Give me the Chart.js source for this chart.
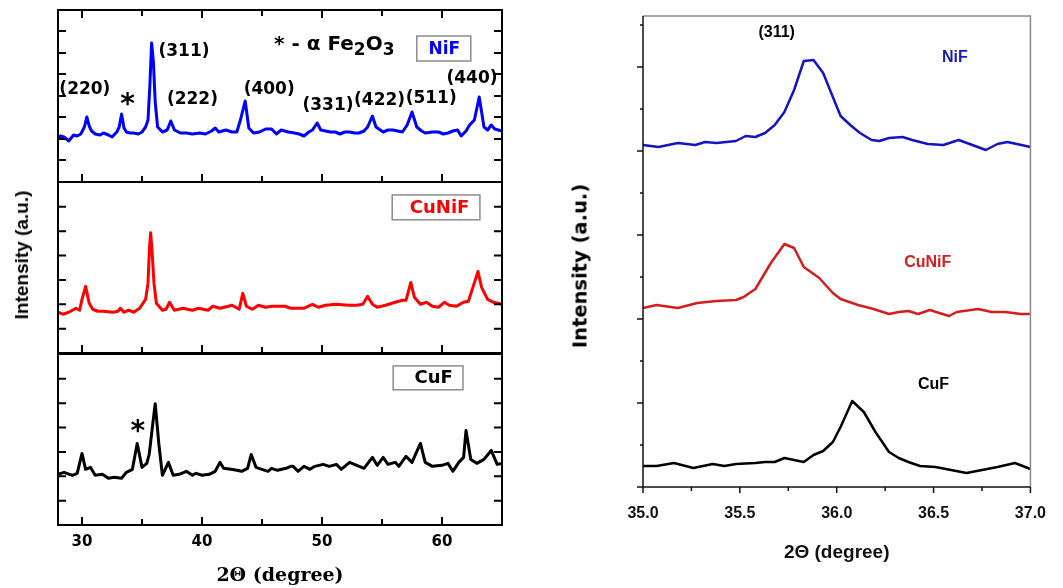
<!DOCTYPE html>
<html>
<head>
<meta charset="utf-8">
<script src="https://cdn.jsdelivr.net/npm/chart.js@4.4.1/dist/chart.umd.min.js"></script>
<style>
  body { margin: 0; background: #fff; }
  #page { position: relative; width: 1063px; height: 588px; overflow: hidden; background: #fff; }
  canvas { position: absolute; top: 0; }
  .left { left: 0; filter: blur(0.4px); }
  .right { left: 560px; filter: blur(0.5px); }
  .ytitle { position: absolute; white-space: nowrap; font-weight: bold; color: #000;
            transform: translate(-50%, -50%) rotate(-90deg); }
</style>
</head>
<body>
<div id="page">
  <canvas id="niPanel" class="left" width="530" height="588"></canvas>
  <canvas id="cuniPanel" class="left" width="530" height="588"></canvas>
  <canvas id="cufPanel" class="left" width="530" height="588"></canvas>
  <canvas id="zoomPanel" class="right" width="503" height="588"></canvas>
  <div class="ytitle" style="left:22px; top:255px; font-family:'Liberation Sans', Arial, sans-serif; font-size:19px;">Intensity (a.u.)</div>
  <div class="ytitle" style="left:580px; top:266px; font-family:'DejaVu Sans', sans-serif; font-size:19.5px;">Intensity (a.u.)</div>
</div>
<script>
// full scans, 2theta 28-65 deg
const niTheta = [28.0, 28.2, 28.5, 28.9, 29.3, 29.6, 29.9, 30.2, 30.4, 30.6, 30.8, 31.1, 31.5, 31.8, 32.2, 32.5, 32.9, 33.1, 33.3, 33.5,
  33.7, 34.0, 34.3, 34.7, 35.0, 35.3, 35.5, 35.65, 35.8, 35.95, 36.1, 36.3, 36.7, 37.1, 37.4, 37.7, 38.2, 38.7, 39.2, 39.8,
  40.3, 40.8, 41.1, 41.4, 41.7, 42.0, 42.5, 42.9, 43.2, 43.6, 43.9, 44.3, 44.8, 45.3, 45.8, 46.2, 46.6, 47.2, 47.7, 48.1,
  48.5, 48.9, 49.2, 49.6, 49.9, 50.3, 50.7, 51.1, 51.5, 51.9, 52.3, 52.7, 53.1, 53.5, 53.8, 54.2, 54.5, 55.1, 55.5, 55.9,
  56.3, 56.7, 57.1, 57.5, 57.9, 58.3, 58.6, 59.2, 59.7, 60.1, 60.5, 60.9, 61.3, 61.6, 62.0, 62.3, 62.7, 63.1, 63.5, 63.8,
  64.1, 64.4, 65.0];
const niCounts = [44, 46, 45, 41, 47, 46, 48, 55, 65, 56, 51, 48, 47, 49, 47, 45, 50, 55, 68, 54,
  50, 49, 49, 48, 50, 55, 62, 95, 139, 120, 80, 55, 50, 52, 61, 52, 49, 49, 48, 49,
  48, 51, 54, 50, 51, 52, 50, 50, 62, 81, 54, 49, 50, 53, 53, 48, 52, 50, 49, 48,
  46, 50, 52, 59, 52, 51, 50, 50, 48, 50, 50, 49, 49, 51, 55, 66, 55, 50, 52, 52,
  51, 50, 57, 70, 55, 51, 49, 50, 50, 48, 49, 51, 52, 46, 51, 57, 62, 85, 55, 52,
  57, 53, 51];

const cuniTheta = [28.0, 28.4, 28.9, 29.5, 29.8, 30.0, 30.3, 30.6, 30.9, 31.3, 31.8, 32.6, 33.0, 33.2, 33.5, 33.9, 34.3, 34.8, 35.3, 35.5,
  35.62, 35.72, 35.85, 36.0, 36.2, 36.7, 37.0, 37.3, 37.7, 38.4, 39.2, 39.7, 40.5, 40.9, 41.5, 42.2, 42.5, 43.1, 43.4, 43.7,
  44.2, 44.7, 45.3, 45.8, 46.9, 47.4, 48.5, 49.2, 49.7, 50.3, 51.2, 52.2, 52.9, 53.4, 53.8, 54.2, 54.6, 55.3, 56.1, 56.7,
  57.0, 57.4, 57.7, 58.2, 58.7, 59.2, 59.7, 60.2, 60.6, 61.2, 61.8, 62.2, 62.6, 63.0, 63.3, 63.8, 64.3, 65.0];
const cuniCounts = [41, 39, 41, 45, 43, 54, 67, 50, 44, 42, 42, 41, 42, 45, 41, 43, 41, 45, 54, 70,
  105, 121, 100, 70, 50, 43, 44, 51, 43, 45, 43, 45, 43, 47, 45, 47, 48, 44, 60, 47,
  44, 48, 46, 47, 47, 45, 45, 49, 46, 48, 49, 48, 48, 49, 57, 49, 46, 48, 51, 53,
  53, 71, 56, 49, 51, 47, 46, 51, 48, 47, 51, 52, 67, 82, 66, 54, 51, 49];

const cufTheta = [28.0, 28.5, 29.2, 29.6, 30.0, 30.3, 30.7, 31.1, 31.7, 32.2, 32.7, 33.3, 33.7, 34.2, 34.6, 35.0, 35.4, 35.6, 35.9, 36.1,
  36.4, 36.7, 37.2, 37.6, 38.1, 38.7, 39.2, 39.5, 40.0, 40.6, 41.1, 41.5, 41.8, 42.4, 42.9, 43.3, 43.8, 44.1, 44.5, 45.0,
  45.5, 45.8, 46.3, 47.0, 47.4, 47.6, 48.0, 48.5, 49.0, 49.4, 50.1, 50.6, 51.2, 51.6, 52.3, 52.9, 53.5, 54.2, 54.6, 55.1,
  55.5, 56.1, 56.4, 57.0, 57.5, 58.2, 58.6, 59.2, 60.0, 60.5, 60.9, 61.4, 61.8, 62.0, 62.4, 62.9, 63.5, 64.1, 64.6, 65.0];
const cufCounts = [51, 53, 50, 52, 72, 56, 58, 50, 51, 47, 48, 47, 53, 56, 82, 58, 62, 71, 102, 122,
  82, 50, 63, 50, 51, 54, 50, 52, 50, 51, 54, 63, 57, 56, 55, 54, 57, 71, 58, 56,
  54, 57, 55, 57, 59, 59, 54, 59, 56, 59, 61, 59, 61, 56, 63, 60, 57, 68, 60, 68,
  61, 63, 59, 69, 63, 82, 63, 59, 60, 62, 54, 63, 68, 95, 66, 62, 66, 75, 61, 62];

// (311) region, 35-37 deg
const niZoomTheta = [35.00, 35.08, 35.18, 35.27, 35.32, 35.38, 35.48, 35.53, 35.58, 35.63, 35.68, 35.73, 35.78, 35.83, 35.88, 35.93, 35.98,
  36.02, 36.07, 36.12, 36.18, 36.22, 36.27, 36.34, 36.39, 36.47, 36.55, 36.63, 36.70, 36.77, 36.83, 36.88, 36.93, 37.00];
const niZoomCounts = [342, 340, 344, 342, 345, 344, 346, 351, 350, 354, 362, 375, 397, 426, 427, 414, 390,
  371, 362, 354, 347, 346, 349, 350, 347, 343, 342, 347, 342, 337, 343, 345, 343, 340];

const cuniZoomTheta = [35.00, 35.07, 35.18, 35.28, 35.38, 35.48, 35.52, 35.58, 35.66, 35.73, 35.78, 35.83, 35.91, 35.98, 36.02,
  36.11, 36.19, 36.27, 36.32, 36.37, 36.42, 36.48, 36.58, 36.62, 36.73, 36.80, 36.87, 36.95, 37.00];
const cuniZoomCounts = [179, 182, 179, 184, 186, 187, 190, 198, 224, 243, 239, 220, 209, 194, 188,
  182, 178, 173, 175, 176, 173, 177, 171, 175, 178, 175, 175, 173, 173];

const cufZoomTheta = [35.00, 35.07, 35.16, 35.26, 35.36, 35.42, 35.48, 35.58, 35.63, 35.68, 35.73, 35.83, 35.88, 35.93, 35.98,
  36.02, 36.08, 36.14, 36.20, 36.27, 36.32, 36.37, 36.43, 36.51, 36.59, 36.67, 36.75, 36.83, 36.92, 37.00];
const cufZoomCounts = [21, 21, 24, 19, 23, 21, 23, 24, 25, 25, 29, 25, 32, 36, 45,
  60, 86, 75, 55, 35, 29, 25, 21, 20, 17, 14, 17, 20, 24, 18];

// tick positions
const leftMajor = [30, 40, 50, 60];
const leftMinor = [35, 45, 55];
const niYTicks = [22, 43, 65, 86, 108, 129, 151];
const cuYTicks = [24.5, 49, 73.5, 98, 122.5, 147];
const zoomXMajor = [35, 35.5, 36, 36.5, 37];
const zoomXMinor = [35.25, 35.75, 36.25, 36.75];
const zoomYMajor = [0, 84, 168, 252, 336, 420];
const zoomYMinor = [42, 126, 210, 294, 378, 462];

const boldSans = "bold 17px 'DejaVu Sans', sans-serif";
const plainSans = "'Liberation Sans', Arial, sans-serif";

function toPoints(xs, ys) {
  return xs.map((x, i) => ({ x: x, y: ys[i] }));
}

// closed frame with inward ticks on every side of a left panel
function frameTicks(yTicks, topTicks) {
  return {
    id: 'frameTicks',
    afterDatasetsDraw(chart) {
      const ctx = chart.ctx;
      const a = chart.chartArea;
      const x = chart.scales.x;
      const y = chart.scales.y;
      ctx.save();
      ctx.strokeStyle = '#000';
      ctx.lineWidth = 2;
      ctx.beginPath();
      leftMajor.concat(leftMinor).forEach(v => {
        const len = leftMajor.includes(v) ? 8 : 6;
        const px = x.getPixelForValue(v);
        ctx.moveTo(px, a.bottom);
        ctx.lineTo(px, a.bottom - len);
        if (topTicks) {
          ctx.moveTo(px, a.top);
          ctx.lineTo(px, a.top + len);
        }
      });
      yTicks.forEach(v => {
        const py = y.getPixelForValue(v);
        ctx.moveTo(a.left, py);
        ctx.lineTo(a.left + 8, py);
        ctx.moveTo(a.right, py);
        ctx.lineTo(a.right - 8, py);
      });
      ctx.stroke();
      ctx.strokeRect(a.left, a.top, a.width, a.height);
      ctx.restore();
    }
  };
}

// text placed in data coordinates, optionally with a box or subscripts
function textMarks(marks) {
  return {
    id: 'textMarks',
    afterDatasetsDraw(chart) {
      const ctx = chart.ctx;
      const x = chart.scales.x;
      const y = chart.scales.y;
      ctx.save();
      marks.forEach(m => {
        if (m.box) {
          const x0 = x.getPixelForValue(m.box[0]);
          const x1 = x.getPixelForValue(m.box[1]);
          const y0 = y.getPixelForValue(m.box[3]);
          const y1 = y.getPixelForValue(m.box[2]);
          ctx.strokeStyle = '#8c8c8c';
          ctx.lineWidth = 1.5;
          ctx.strokeRect(x0, y0, x1 - x0, y1 - y0);
        }
        ctx.fillStyle = m.color || '#000';
        ctx.textBaseline = m.baseline || 'middle';
        let px = x.getPixelForValue(m.x);
        const py = y.getPixelForValue(m.y);
        if (m.parts) {
          ctx.textAlign = 'left';
          m.parts.forEach(p => {
            ctx.font = p.sub ? m.subFont : m.font;
            ctx.fillText(p.t, px, p.sub ? py + 6 : py);
            px += ctx.measureText(p.t).width;
          });
        } else {
          ctx.font = m.font;
          ctx.textAlign = m.align || 'center';
          ctx.fillText(m.text, px, py);
        }
      });
      ctx.restore();
    }
  };
}

const niMarks = [
  { text: '(220)', x: 30.24, y: 92, font: boldSans },
  { text: '*', x: 33.8, y: 69, font: "bold 28px 'DejaVu Sans', sans-serif", baseline: 'alphabetic' },
  { text: '(311)', x: 38.5, y: 130, font: boldSans },
  { text: '(222)', x: 39.2, y: 82, font: boldSans },
  { text: '(400)', x: 45.6, y: 92, font: boldSans },
  { text: '(331)', x: 50.5, y: 76, font: boldSans },
  { text: '(422)', x: 54.8, y: 81, font: boldSans },
  { text: '(511)', x: 59.1, y: 83, font: boldSans },
  { text: '(440)', x: 62.5, y: 103, font: boldSans },
  { x: 46.0, y: 137, font: "bold 20px 'DejaVu Sans', sans-serif", subFont: "bold 17px 'DejaVu Sans', sans-serif",
    parts: [{ t: '* - \u03b1 Fe' }, { t: '2', sub: true }, { t: 'O' }, { t: '3', sub: true }] },
  { text: 'NiF', x: 60.2, y: 132, font: "bold 17px 'DejaVu Sans', sans-serif", color: '#0000ff', box: [57.9, 62.4, 121, 146] }
];
const cuniMarks = [
  { text: 'CuNiF', x: 59.8, y: 146, font: "bold 18px 'DejaVu Sans', sans-serif", color: '#ff0000', box: [55.85, 63.16, 134, 159] }
];
const cufMarks = [
  { text: '*', x: 34.65, y: 86, font: "bold 28px 'DejaVu Sans', sans-serif", baseline: 'alphabetic' },
  { text: 'CuF', x: 59.3, y: 148, font: "bold 18px 'DejaVu Sans', sans-serif", box: [55.93, 61.75, 136, 160] }
];

function xrdPanel(id, theta, counts, color, yTicks, pad, bottomAxis, topTicks, marks) {
  const xScale = {
    type: 'linear',
    min: 28,
    max: 65,
    display: bottomAxis,
    grid: { display: false, drawTicks: false },
    border: { display: false },
    afterBuildTicks: s => { s.ticks = leftMajor.map(v => ({ value: v })); },
    ticks: { padding: 8, color: '#000', font: { family: "'DejaVu Sans', sans-serif", size: 15, weight: 'bold' } },
    title: {
      display: true,
      text: '2\u0398 (degree)',
      color: '#000',
      padding: { top: 0, bottom: 1 },
      font: { family: "'DejaVu Serif', 'Liberation Serif', serif", size: 19, weight: 'bold' }
    }
  };
  if (bottomAxis) {
    xScale.afterFit = s => { s.height = 63; };
  }
  return new Chart(document.getElementById(id), {
    type: 'line',
    data: {
      datasets: [{
        data: toPoints(theta, counts),
        borderColor: color,
        borderWidth: 3,
        pointRadius: 0,
        tension: 0,
        borderJoinStyle: 'round'
      }]
    },
    options: {
      responsive: false,
      animation: false,
      events: [],
      layout: { padding: pad },
      plugins: { legend: { display: false }, tooltip: { enabled: false } },
      scales: {
        x: xScale,
        y: { min: 0, max: 172, display: false }
      }
    },
    plugins: [frameTicks(yTicks, topTicks), textMarks(marks)]
  });
}

xrdPanel('niPanel', niTheta, niCounts, '#0000ff', niYTicks, { left: 58, right: 28, top: 10, bottom: 406 }, false, true, niMarks);
xrdPanel('cuniPanel', cuniTheta, cuniCounts, '#ff0000', cuYTicks, { left: 58, right: 28, top: 182, bottom: 235 }, false, false, cuniMarks);
xrdPanel('cufPanel', cufTheta, cufCounts, '#000000', cuYTicks, { left: 58, right: 28, top: 354, bottom: 0 }, true, false, cufMarks);

// axes of the (311) close-up: black left/bottom with outward ticks, grey top/right
const zoomAxes = {
  id: 'zoomAxes',
  afterDatasetsDraw(chart) {
    const ctx = chart.ctx;
    const a = chart.chartArea;
    const x = chart.scales.x;
    const y = chart.scales.y;
    ctx.save();
    ctx.strokeStyle = '#8a8a8a';
    ctx.lineWidth = 1.5;
    ctx.beginPath();
    ctx.moveTo(a.left, a.top);
    ctx.lineTo(a.right, a.top);
    ctx.lineTo(a.right, a.bottom);
    ctx.stroke();
    ctx.strokeStyle = '#111';
    ctx.lineWidth = 1.5;
    ctx.beginPath();
    ctx.moveTo(a.left, a.top);
    ctx.lineTo(a.left, a.bottom);
    ctx.lineTo(a.right, a.bottom);
    zoomXMajor.forEach(v => { const px = x.getPixelForValue(v); ctx.moveTo(px, a.bottom); ctx.lineTo(px, a.bottom + 6); });
    zoomXMinor.forEach(v => { const px = x.getPixelForValue(v); ctx.moveTo(px, a.bottom); ctx.lineTo(px, a.bottom + 4); });
    zoomYMajor.forEach(v => { const py = y.getPixelForValue(v); ctx.moveTo(a.left, py); ctx.lineTo(a.left - 6, py); });
    zoomYMinor.forEach(v => { const py = y.getPixelForValue(v); ctx.moveTo(a.left, py); ctx.lineTo(a.left - 3, py); });
    ctx.stroke();
    ctx.restore();
  }
};

const zoomMarks = [
  { text: '(311)', x: 35.69, y: 454, font: "bold 16px " + plainSans },
  { text: 'NiF', x: 36.61, y: 429, font: "bold 16px " + plainSans, color: '#1a1ab4' },
  { text: 'CuNiF', x: 36.47, y: 224, font: "bold 16px " + plainSans, color: '#d42020' },
  { text: 'CuF', x: 36.50, y: 102, font: "bold 16px " + plainSans }
];

new Chart(document.getElementById('zoomPanel'), {
  type: 'line',
  data: {
    datasets: [
      { data: toPoints(niZoomTheta, niZoomCounts), borderColor: '#1414c0' },
      { data: toPoints(cuniZoomTheta, cuniZoomCounts), borderColor: '#d41e1e' },
      { data: toPoints(cufZoomTheta, cufZoomCounts), borderColor: '#000000' }
    ]
  },
  options: {
    responsive: false,
    animation: false,
    events: [],
    layout: { padding: { left: 83, right: 16, top: 16, bottom: 0 } },
    elements: { line: { borderWidth: 2.5, tension: 0, borderJoinStyle: 'round' }, point: { radius: 0 } },
    plugins: { legend: { display: false }, tooltip: { enabled: false } },
    scales: {
      x: {
        type: 'linear',
        min: 35,
        max: 37,
        grid: { display: false, drawTicks: false },
        border: { display: false },
        afterFit: s => { s.height = 101; },
        ticks: {
          stepSize: 0.5,
          padding: 17,
          color: '#111',
          font: { family: plainSans, size: 16, weight: 'bold' },
          callback: v => v.toFixed(1)
        },
        title: {
          display: true,
          text: '2\u0398 (degree)',
          color: '#111',
          padding: { top: 0, bottom: 24 },
          font: { family: plainSans, size: 19, weight: 'bold' }
        }
      },
      y: { min: 0, max: 471, display: false }
    }
  },
  plugins: [zoomAxes, textMarks(zoomMarks)]
});
</script>
</body>
</html>
